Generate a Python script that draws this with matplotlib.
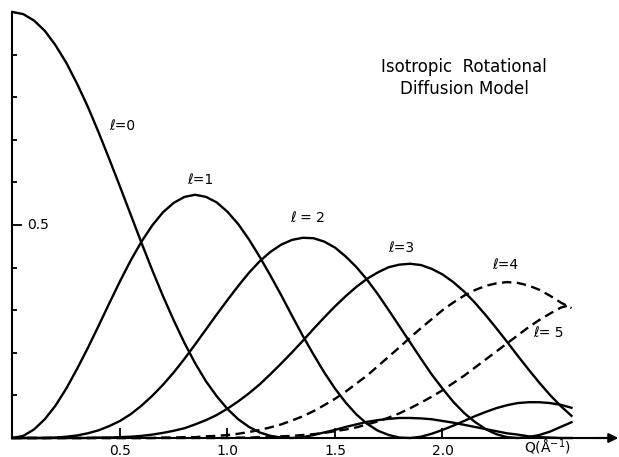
import matplotlib
matplotlib.use("Agg")
import matplotlib.pyplot as plt

# Q in 1/A and intensity of each l term
q = [0.00, 0.05, 0.10, 0.15, 0.20, 0.25, 0.30, 0.35, 0.40, 0.45,
     0.50, 0.55, 0.60, 0.65, 0.70, 0.75, 0.80, 0.85, 0.90, 0.95,
     1.00, 1.05, 1.10, 1.15, 1.20, 1.25, 1.30, 1.35, 1.40, 1.45,
     1.50, 1.55, 1.60, 1.65, 1.70, 1.75, 1.80, 1.85, 1.90, 1.95,
     2.00, 2.05, 2.10, 2.15, 2.20, 2.25, 2.30, 2.35, 2.40, 2.45,
     2.50, 2.55, 2.60]

l0 = [1.000, 0.995, 0.980, 0.956, 0.922, 0.881, 0.832, 0.778, 0.718, 0.655,
      0.590, 0.524, 0.458, 0.394, 0.333, 0.276, 0.223, 0.175, 0.133, 0.098,
      0.068, 0.044, 0.026, 0.013, 0.005, 0.001, 0.000, 0.002, 0.007, 0.013,
      0.019, 0.026, 0.032, 0.038, 0.042, 0.045, 0.047, 0.047, 0.046, 0.044,
      0.040, 0.036, 0.031, 0.026, 0.021, 0.016, 0.011, 0.008, 0.004, 0.002,
      0.001, 0.000, 0.000]
l1 = [0.000, 0.005, 0.020, 0.044, 0.076, 0.116, 0.162, 0.211, 0.263, 0.316,
      0.368, 0.417, 0.461, 0.499, 0.530, 0.552, 0.566, 0.571, 0.566, 0.553,
      0.531, 0.502, 0.466, 0.425, 0.381, 0.335, 0.287, 0.240, 0.196, 0.154,
      0.116, 0.083, 0.055, 0.033, 0.017, 0.007, 0.001, 0.000, 0.003, 0.010,
      0.019, 0.029, 0.040, 0.051, 0.061, 0.070, 0.077, 0.082, 0.084, 0.084,
      0.082, 0.078, 0.071]
l2 = [0.000, 0.000, 0.000, 0.000, 0.001, 0.003, 0.006, 0.011, 0.018, 0.028,
      0.040, 0.056, 0.076, 0.099, 0.125, 0.154, 0.186, 0.220, 0.255, 0.290,
      0.324, 0.357, 0.388, 0.415, 0.437, 0.454, 0.465, 0.470, 0.469, 0.461,
      0.447, 0.426, 0.401, 0.371, 0.337, 0.300, 0.262, 0.224, 0.186, 0.149,
      0.116, 0.085, 0.059, 0.038, 0.021, 0.009, 0.002, 0.000, 0.002, 0.007,
      0.015, 0.026, 0.037]
l3 = [0.000, 0.000, 0.000, 0.000, 0.000, 0.000, 0.000, 0.000, 0.001, 0.001,
      0.002, 0.003, 0.005, 0.008, 0.012, 0.017, 0.023, 0.032, 0.042, 0.054,
      0.069, 0.086, 0.105, 0.126, 0.150, 0.175, 0.201, 0.228, 0.256, 0.283,
      0.309, 0.333, 0.355, 0.374, 0.389, 0.401, 0.407, 0.409, 0.406, 0.397,
      0.384, 0.366, 0.344, 0.318, 0.289, 0.258, 0.226, 0.193, 0.161, 0.130,
      0.101, 0.075, 0.052]
l4 = [0.000, 0.000, 0.000, 0.000, 0.000, 0.000, 0.000, 0.000, 0.000, 0.000,
      0.000, 0.000, 0.000, 0.000, 0.001, 0.001, 0.002, 0.002, 0.004, 0.005,
      0.007, 0.010, 0.014, 0.019, 0.025, 0.032, 0.041, 0.051, 0.063, 0.077,
      0.092, 0.109, 0.128, 0.147, 0.169, 0.191, 0.213, 0.236, 0.258, 0.279,
      0.300, 0.318, 0.334, 0.347, 0.357, 0.363, 0.366, 0.364, 0.358, 0.348,
      0.334, 0.318, 0.305]
l5 = [0.000, 0.000, 0.000, 0.000, 0.000, 0.000, 0.000, 0.000, 0.000, 0.000,
      0.000, 0.000, 0.000, 0.000, 0.000, 0.000, 0.000, 0.000, 0.000, 0.000,
      0.000, 0.001, 0.001, 0.002, 0.002, 0.004, 0.005, 0.007, 0.009, 0.012,
      0.016, 0.020, 0.025, 0.032, 0.039, 0.048, 0.058, 0.070, 0.083, 0.097,
      0.112, 0.129, 0.146, 0.165, 0.184, 0.203, 0.222, 0.241, 0.260, 0.277,
      0.292, 0.306, 0.313]

xticks = [0.5, 1.0, 1.5, 2.0]
xticklabels = ["0.5", "1.0", "1.5", "2.0"]

W, H = 619, 457
fig = plt.figure(figsize=(W / 100, H / 100), dpi=100)
ax = fig.add_axes([0, 0, 1, 1])
# pixel frame of the scan: Q=0 at x=12.5, 215 px per 1/A; y=0 at row 438, 426 px per unit
ax.set_xlim(-12.5 / 215, (W - 12.5) / 215)
ax.set_ylim((438 - H) / 426, 438 / 426)

lw = 1.7
ax.plot(q, l0, color="black", lw=lw)
ax.plot(q, l1, color="black", lw=lw)
ax.plot(q, l2, color="black", lw=lw)
ax.plot(q, l3, color="black", lw=lw)
ax.plot(q, l4, color="black", lw=lw, ls=(0, (4, 2.3)))
ax.plot(q, l5, color="black", lw=lw, ls=(0, (4, 2.3)))

# axes drawn through the origin
for s in ["top", "right"]:
    ax.spines[s].set_visible(False)
ax.spines["left"].set_position(("data", 0))
ax.spines["bottom"].set_position(("data", 0))
ax.spines["left"].set_bounds(0, 1.0)
ax.spines["bottom"].set_bounds(0, 2.78)
ax.spines["left"].set_linewidth(1.5)
ax.spines["bottom"].set_linewidth(1.5)
ax.annotate("", xy=(2.818, 0), xytext=(2.70, 0),
            arrowprops=dict(arrowstyle="-|>", color="black", lw=1.5,
                            mutation_scale=14, shrinkA=0, shrinkB=0))

ax.set_xticks(xticks)
ax.set_xticklabels(xticklabels, fontsize=10)
ax.tick_params(axis="x", direction="in", length=7, width=1.3, pad=4)
ax.set_yticks([0.5])
ax.set_yticks([0.1, 0.2, 0.3, 0.4, 0.6, 0.7, 0.8, 0.9], minor=True)
ax.tick_params(axis="y", which="major", direction="in", length=7, width=1.3, labelleft=False)
ax.tick_params(axis="y", which="minor", direction="in", length=3.5, width=1.3)
ax.text(0.07, 0.5, "0.5", fontsize=10, ha="left", va="center")
ax.text(2.49, -0.022, "Q(Å$^{-1}$)", fontsize=10, ha="center", va="center")

ax.text(2.1, 0.845, "Isotropic  Rotational\nDiffusion Model", fontsize=12,
        ha="center", va="center", linespacing=1.25)

ax.text(0.51, 0.733, "ℓ=0", fontsize=10, ha="center", va="center")
ax.text(0.875, 0.606, "ℓ=1", fontsize=10, ha="center", va="center")
ax.text(1.375, 0.516, "ℓ = 2", fontsize=10, ha="center", va="center")
ax.text(1.81, 0.446, "ℓ=3", fontsize=10, ha="center", va="center")
ax.text(2.29, 0.406, "ℓ=4", fontsize=10, ha="center", va="center")
ax.text(2.495, 0.246, "ℓ= 5", fontsize=10, ha="center", va="center")

fig.savefig("out.png", dpi=100)
